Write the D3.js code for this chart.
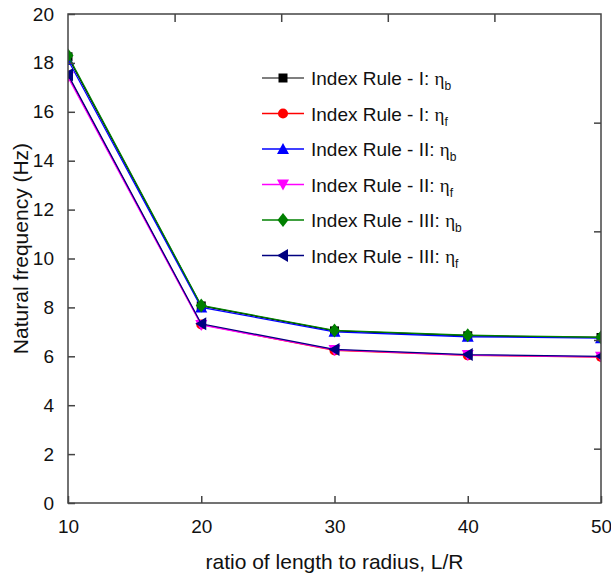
<!DOCTYPE html>
<html><head><meta charset="utf-8">
<script src="https://cdn.jsdelivr.net/npm/d3@7"></script>
<style>body{margin:0;background:#fff}svg{display:block}</style>
</head><body><svg id="c" width="611" height="575"></svg>
<script>
const ratios = [10, 20, 30, 40, 50];
const rule1_b = [18.25, 8.06, 7.04, 6.84, 6.77];
const rule1_f = [17.48, 7.30, 6.24, 6.04, 5.97];
const rule2_b = [18.12, 8.00, 7.00, 6.80, 6.74];
const rule2_f = [17.42, 7.28, 6.26, 6.05, 5.98];
const rule3_b = [18.30, 8.08, 7.06, 6.86, 6.78];
const rule3_f = [17.52, 7.33, 6.28, 6.07, 6.00];
const seriesNames = ["Index Rule - I: ", "Index Rule - I: ", "Index Rule - II: ", "Index Rule - II: ", "Index Rule - III: ", "Index Rule - III: "];
const seriesSubs = ["b", "f", "b", "f", "b", "f"];
const xTicks = [10, 20, 30, 40, 50];
const yTicks = [0, 2, 4, 6, 8, 10, 12, 14, 16, 18, 20];
const topTicks = [18, 26, 34, 42];
const rightTicks = [2.222, 6.667, 11.111, 15.556];

const colors = ["#000000", "#ff0000", "#0000ff", "#ff00ff", "#008000", "#000080"];
const shapes = ["square", "circle", "up", "down", "diamond", "left"];
const allVals = [rule1_b, rule1_f, rule2_b, rule2_f, rule3_b, rule3_f];

const svg = d3.select("#c");
const L = 68, R = 601, T = 14, B = 503;
const x = d3.scaleLinear().domain([10, 50]).range([L, R]);
const y = d3.scaleLinear().domain([0, 20]).range([B, T]);
const font = "'Liberation Sans', Arial, sans-serif";

svg.append("defs").append("clipPath").attr("id", "clip")
  .append("rect").attr("x", L).attr("y", T).attr("width", R - L).attr("height", B - T);

function markerPath(shape) {
  switch (shape) {
    case "square": return "M-4.5,-4.5H4.5V4.5H-4.5Z";
    case "circle": return d3.symbol(d3.symbolCircle, 80)();
    case "up": return "M0,-6L6,5H-6Z";
    case "down": return "M0,6L6,-5H-6Z";
    case "diamond": return "M0,-7L5.5,0L0,7L-5.5,0Z";
    case "left": return "M-6,0L5,-6.5V6.5Z";
  }
}

const plot = svg.append("g").attr("clip-path", "url(#clip)");
const line = d3.line().x(d => x(d[0])).y(d => y(d[1]));
allVals.forEach((vals, i) => {
  const pts = ratios.map((r, j) => [r, vals[j]]);
  const g = plot.append("g");
  g.append("path").attr("d", line(pts)).attr("fill", "none")
    .attr("stroke", colors[i]).attr("stroke-width", 1.3);
  g.selectAll("path.m").data(pts).enter().append("path").attr("class", "m")
    .attr("d", markerPath(shapes[i]))
    .attr("transform", d => `translate(${x(d[0])},${y(d[1])})`)
    .attr("fill", colors[i]);
});

// Frame
svg.append("rect").attr("x", L).attr("y", T).attr("width", R - L).attr("height", B - T)
  .attr("fill", "none").attr("stroke", "#444").attr("stroke-width", 1.5);

// Axes with inward ticks
const xAxis = svg.append("g").attr("transform", `translate(0,${B})`)
  .call(d3.axisBottom(x).tickValues(xTicks).tickSizeInner(-7).tickSizeOuter(0).tickPadding(17).tickFormat(d3.format("d")));
const yAxis = svg.append("g").attr("transform", `translate(${L},0)`)
  .call(d3.axisLeft(y).tickValues(yTicks).tickSizeInner(-7).tickSizeOuter(0).tickPadding(14).tickFormat(d3.format("d")));
const topAxis = svg.append("g").attr("transform", `translate(0,${T})`)
  .call(d3.axisTop(x).tickValues(topTicks).tickSizeInner(-8).tickSizeOuter(0).tickFormat(""));
const rightAxis = svg.append("g").attr("transform", `translate(${R},0)`)
  .call(d3.axisRight(y).tickValues(rightTicks).tickSizeInner(-7).tickSizeOuter(0).tickFormat(""));
[xAxis, yAxis, topAxis, rightAxis].forEach(a => {
  a.select(".domain").remove();
  a.selectAll(".tick line").attr("stroke", "#444").attr("stroke-width", 1.5);
  a.selectAll("text").attr("font-family", font).attr("font-size", 19).attr("fill", "#111");
});

// Axis titles
svg.append("text").attr("x", (L + R) / 2 + 0).attr("y", 569).attr("text-anchor", "middle")
  .attr("font-family", font).attr("font-size", 21).attr("fill", "#111")
  .text("ratio of length to radius, L/R");
svg.append("text").attr("transform", `translate(28,${(T + B) / 2 - 10}) rotate(-90)`)
  .attr("text-anchor", "middle").attr("font-family", font).attr("font-size", 21).attr("fill", "#111")
  .text("Natural frequency (Hz)");

// Legend
const legY0 = 78, legDy = 35.5;
const leg = svg.append("g");
seriesNames.forEach((name, i) => {
  const yy = legY0 + i * legDy;
  leg.append("line").attr("x1", 262).attr("x2", 304).attr("y1", yy).attr("y2", yy)
    .attr("stroke", i === 0 ? "#555" : colors[i]).attr("stroke-width", 1.3);
  leg.append("path").attr("d", markerPath(shapes[i])).attr("transform", `translate(283,${yy})`)
    .attr("fill", colors[i]);
  const t = leg.append("text").attr("x", 311).attr("y", yy + 7)
    .attr("font-family", font).attr("font-size", 19).attr("fill", "#111");
  t.append("tspan").text(name);
  t.append("tspan").attr("font-family", "'Liberation Serif', 'DejaVu Serif', serif").attr("font-size", 19).text("η");
  t.append("tspan").attr("font-size", 12).attr("dy", 5).text(seriesSubs[i]);
});
</script>
</body></html>
